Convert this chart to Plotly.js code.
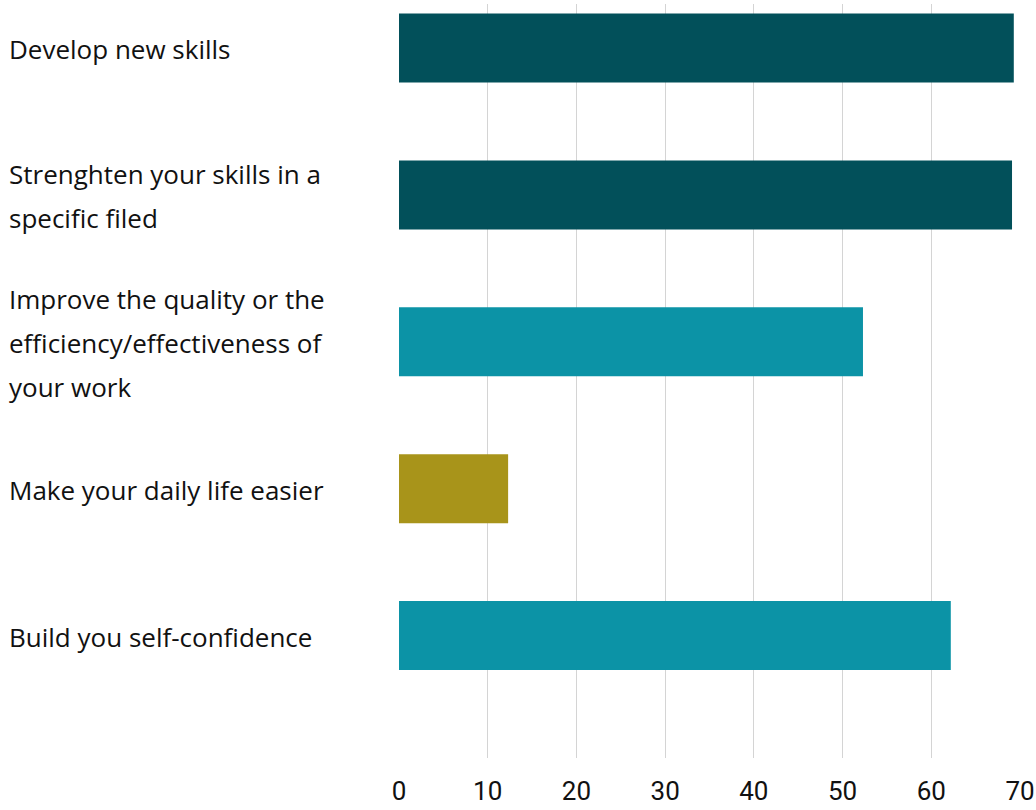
<!DOCTYPE html>
<html>
<head>
<meta charset="utf-8">
<script src="https://cdn.plot.ly/plotly-3.0.1.min.js"></script>
<style>
  html, body { margin: 0; padding: 0; background: #ffffff; }
  #chart { width: 1036px; height: 810px; }
</style>
</head>
<body>
<div id="chart"></div>
<script>
// ---- data ----
var categories = [
  "Develop new skills",
  "Strenghten your skills in a specific filed",
  "Improve the quality or the efficiency/effectiveness of your work",
  "Make your daily life easier",
  "Build you self-confidence"
];
var tickLabels = [
  "Develop new skills",
  "Strenghten your skills in a<br>specific filed",
  "Improve the quality or the<br>efficiency/effectiveness of<br>your work",
  "Make your daily life easier",
  "Build you self-confidence"
];
var values = [69.3, 69.1, 52.3, 12.3, 62.2];
var xTicks = [0, 10, 20, 30, 40, 50, 60, 70];

// ---- styles ----
var barColors = ["#02505A", "#02505A", "#0C93A6", "#A8941A", "#0C93A6"];
var LABEL_FONT = "'Open Sans', Roboto, sans-serif";
var TICK_FONT = "Roboto, 'Open Sans', sans-serif";
var LINE_H = 44;

var annotations = [];
tickLabels.forEach(function (lab, i) {
  var lines = lab.split("<br>");
  var n = lines.length;
  lines.forEach(function (ln, k) {
    annotations.push({
      text: ln,
      xref: "paper", x: 0, xanchor: "left", xshift: -392,
      yref: "y", y: categories[i], yanchor: "middle",
      yshift: ((n - 1) / 2 - k) * LINE_H - 1,
      showarrow: false,
      align: "left",
      font: { family: LABEL_FONT, size: 26, color: "#111111" }
    });
  });
});

var trace = {
  type: "bar",
  orientation: "h",
  y: categories,
  x: values,
  marker: { color: barColors },
  hoverinfo: "x+y"
};

var layout = {
  width: 1036,
  height: 810,
  margin: { l: 399, r: 16, t: 4, b: 52 },
  paper_bgcolor: "#ffffff",
  plot_bgcolor: "#ffffff",
  showlegend: false,
  bargap: 0.53,
  font: { family: TICK_FONT, color: "#111111" },
  xaxis: {
    range: [0, 70],
    tickvals: xTicks,
    showgrid: true,
    gridcolor: "#d4d4d4",
    gridwidth: 1,
    zeroline: false,
    showline: false,
    ticks: "",
    ticklabelstandoff: 15,
    tickfont: { family: TICK_FONT, size: 26, color: "#111111" },
    fixedrange: true
  },
  yaxis: {
    type: "category",
    categoryorder: "array",
    categoryarray: categories,
    range: [4.834, -0.30],
    showgrid: false,
    zeroline: false,
    showline: false,
    showticklabels: false,
    ticks: "",
    fixedrange: true
  },
  annotations: annotations
};

Plotly.newPlot("chart", [trace], layout, { displayModeBar: false, staticPlot: true });
</script>
</body>
</html>
